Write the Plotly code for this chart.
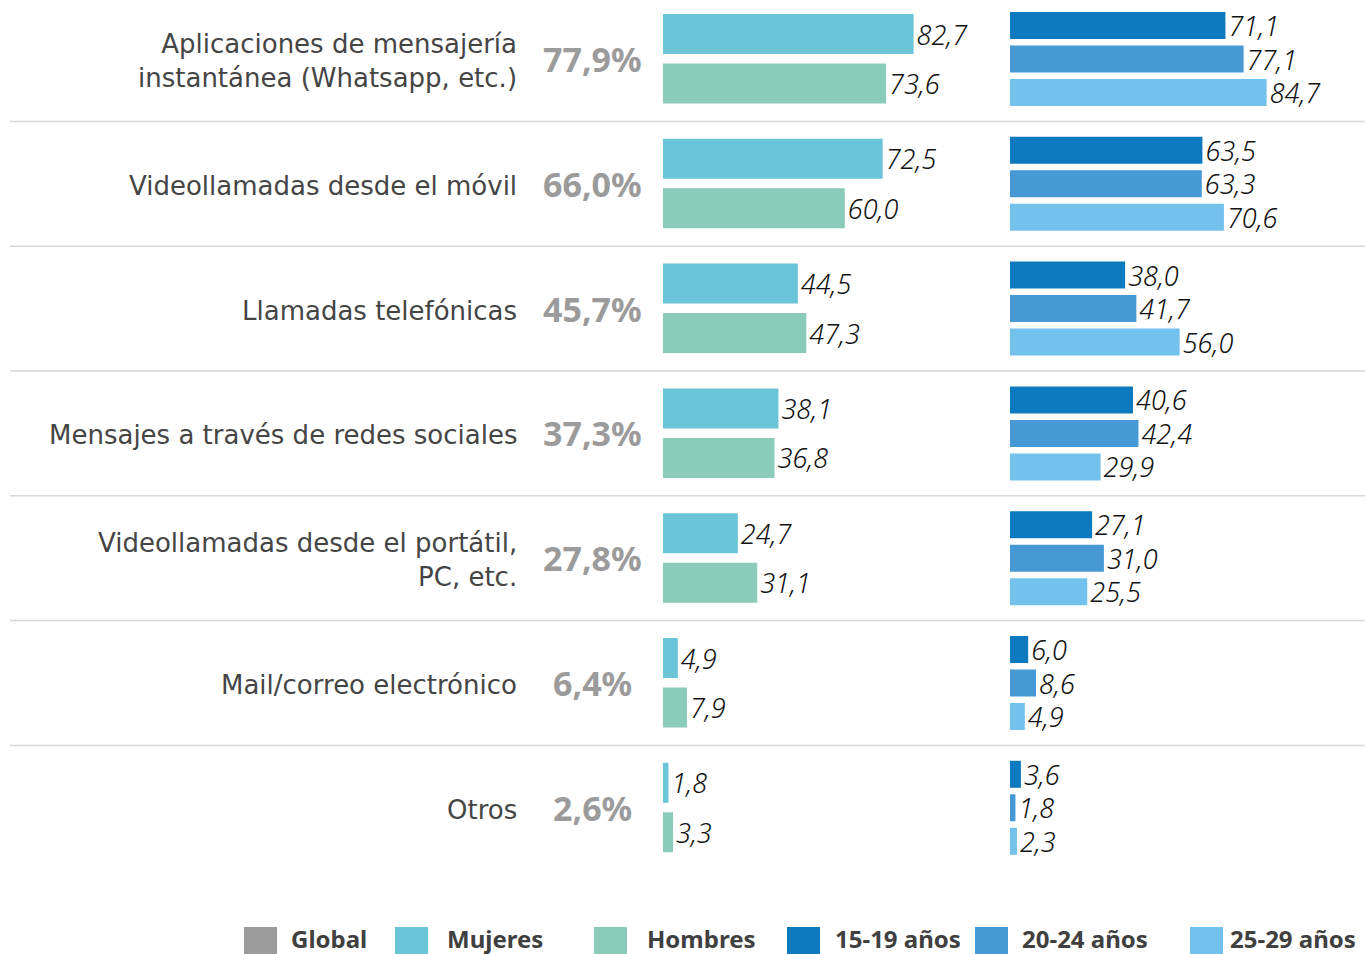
import plotly.graph_objects as go

categories = [
    "Aplicaciones de mensajería<br>instantánea (Whatsapp, etc.)",
    "Videollamadas desde el móvil",
    "Llamadas telefónicas",
    "Mensajes a través de redes sociales",
    "Videollamadas desde el portátil,<br>PC, etc.",
    "Mail/correo electrónico",
    "Otros",
]
global_pct = [77.9, 66.0, 45.7, 37.3, 27.8, 6.4, 2.6]
mujeres = [82.7, 72.5, 44.5, 38.1, 24.7, 4.9, 1.8]
hombres = [73.6, 60.0, 47.3, 36.8, 31.1, 7.9, 3.3]
edad_15_19 = [71.1, 63.5, 38.0, 40.6, 27.1, 6.0, 3.6]
edad_20_24 = [77.1, 63.3, 41.7, 42.4, 31.0, 8.6, 1.8]
edad_25_29 = [84.7, 70.6, 56.0, 29.9, 25.5, 4.9, 2.3]

legend_labels = ["Global", "Mujeres", "Hombres", "15-19 años", "20-24 años", "25-29 años"]

C_GLOBAL = "#9b9b9b"
C_MUJ = "#6BC5D8"
C_HOM = "#8BCBB9"
C_A1 = "#0D7ABF"
C_A2 = "#4799D5"
C_A3 = "#73C2EE"
legend_colors = [C_GLOBAL, C_MUJ, C_HOM, C_A1, C_A2, C_A3]

W, H = 1365, 954
ROW0, ROWH = 59, 124.8
centers = [ROW0 + ROWH * i for i in range(len(categories))]

def fmt(v):
    return f"{v:.1f}".replace(".", ",")

val_font = dict(family="Noto Sans", size=27, color="#111111", style="italic", weight=300)

fig = go.Figure()

def add_bar(vals, offset, width, color, xaxis):
    fig.add_trace(go.Bar(
        x=vals, y=[c + offset for c in centers], orientation="h",
        width=width, marker=dict(color=color, line=dict(width=0)),
        text=[fmt(v) for v in vals], textposition="outside",
        textfont=val_font, constraintext="none", cliponaxis=False,
        xaxis=xaxis, yaxis="y", showlegend=False, hoverinfo="skip",
    ))

add_bar(mujeres, -25, 40, C_MUJ, "x")
add_bar(hombres, 24.5, 40, C_HOM, "x")
add_bar(edad_15_19, -33.5, 27, C_A1, "x2")
add_bar(edad_20_24, 0, 27, C_A2, "x2")
add_bar(edad_25_29, 33.5, 27, C_A3, "x2")

PX_PER_UNIT = 3.03
gx0, gx1 = 663, 1010
ax0, ax1 = 1010, 1365

annotations = []
shapes = []
for i, (cat, g, c) in enumerate(zip(categories, global_pct, centers)):
    annotations.append(dict(
        x=519 / W, y=c + 2, xref="paper", yref="y", text=cat, showarrow=False,
        xanchor="right", yanchor="middle", align="right",
        font=dict(family="DejaVu Sans", size=26, color="#454545"),
    ))
    annotations.append(dict(
        x=592 / W, y=c, xref="paper", yref="y", text=f"{fmt(g)}%", showarrow=False,
        xanchor="center", yanchor="middle",
        font=dict(family="Noto Sans", size=34, color=C_GLOBAL, weight="bold"),
    ))
    if i < len(categories) - 1:
        ly = c + ROWH / 2
        shapes.append(dict(type="line", xref="paper", yref="y", x0=10 / W, x1=1,
                           y0=ly, y1=ly, line=dict(color="#d6d6d6", width=1.5)))

# manual legend
leg_x = [244, 395, 594, 787, 975, 1190]
leg_tx = [289, 445, 645, 833, 1020, 1228]
for lx, tx, lab, col in zip(leg_x, leg_tx, legend_labels, legend_colors):
    shapes.append(dict(type="rect", xref="paper", yref="y", x0=lx / W, x1=(lx + 33) / W,
                       y0=927, y1=956, fillcolor=col, line=dict(width=0)))
    annotations.append(dict(
        x=tx / W, y=938, xref="paper", yref="y", text=lab, showarrow=False,
        xanchor="left", yanchor="middle",
        font=dict(family="Noto Sans", size=24, color="#404040", weight="bold"),
    ))

fig.update_layout(
    width=W, height=H, margin=dict(l=0, r=0, t=0, b=0),
    paper_bgcolor="white", plot_bgcolor="white",
    barmode="overlay", showlegend=False,
    xaxis=dict(domain=[gx0 / W, gx1 / W], range=[0, (gx1 - gx0) / PX_PER_UNIT],
               visible=False, fixedrange=True),
    xaxis2=dict(domain=[ax0 / W, ax1 / W], range=[0, (ax1 - ax0) / PX_PER_UNIT],
                visible=False, fixedrange=True, anchor="y"),
    yaxis=dict(domain=[0, 1], range=[H, 0], visible=False, fixedrange=True),
    annotations=annotations, shapes=shapes,
)

fig.write_html(
    "out.html",
    config=dict(displayModeBar=False),
    post_script="document.body.style.margin='0';document.body.style.overflow='hidden';",
)
